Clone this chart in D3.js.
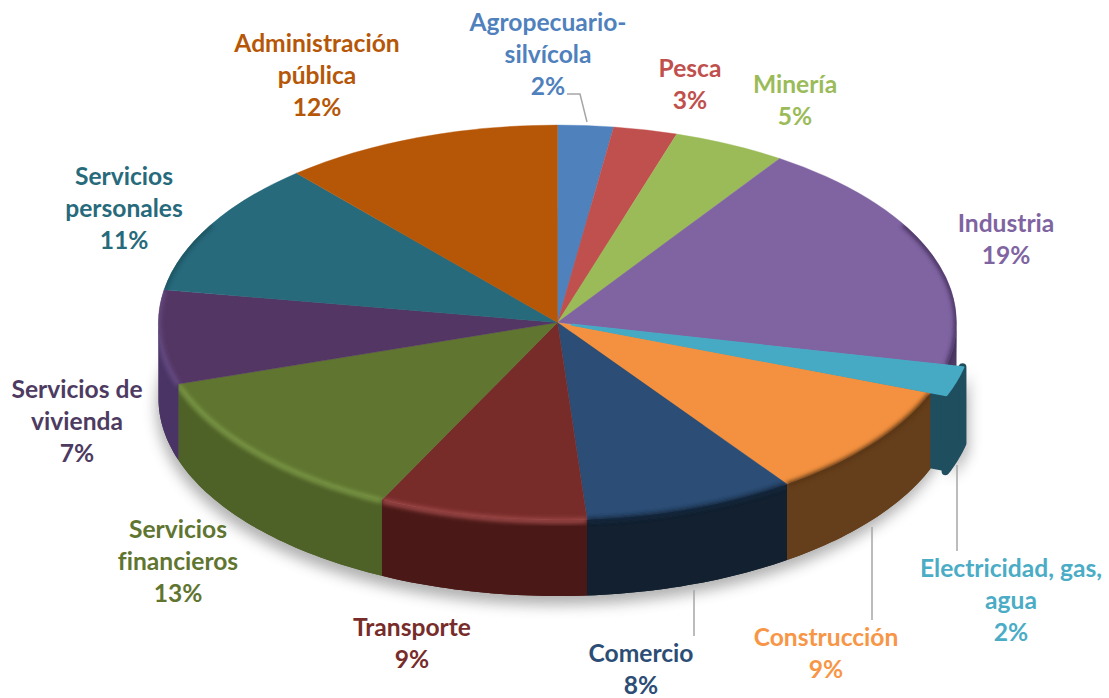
<!DOCTYPE html>
<html>
<head>
<meta charset="utf-8">
<script src="https://cdn.jsdelivr.net/npm/d3@7"></script>
<style>
  html, body { margin: 0; padding: 0; background: #fff; }
  text { font-family: Lato, sans-serif; font-weight: 700; text-anchor: middle; font-variant-ligatures: none; }
</style>
</head>
<body>
<svg id="chart" width="1109" height="698"></svg>
<script>
// slice sizes (%), printed labels kept separately
const sectors = ["Agropecuario-", "Pesca", "Minería", "Industria", "Electricidad, gas,", "Construcción",
    "Comercio", "Transporte", "Servicios", "Servicios de", "Servicios", "Administración"];
const sectorsLine2 = ["silvícola", "", "", "", "agua", "", "", "", "financieros", "vivienda", "personales", "pública"];
const shares = [2.25, 2.58, 4.57, 19.05, 2.35, 9.45, 8.57, 8.43, 12.7, 7.7, 11.0, 11.35];
const shareLabels = [2, 3, 5, 19, 2, 9, 8, 9, 13, 7, 11, 12];

// styles
const topColors = ["#4f81bd", "#c0504d", "#9bbb59", "#8064a2", "#46aac4", "#f39140",
    "#2c4d75", "#772c2a", "#5f7530", "#533663", "#276a7c", "#b65708"];
const wallColors = ["#3a5f8c", "#8e3b39", "#738a42", "#4e3c66", "#1f4e5f", "#653f1c",
    "#12202f", "#4a1917", "#4e6127", "#493465", "#1b4a57", "#7f3d06"];
const rimColors = ["#4f81bd", "#c0504d", "#9bbb59", "#46335f", "#5cc0da", "#5a3616",
    "#14263c", "#a04a48", "#7a9844", "#654a82", "#1e5361", "#b65708"];
const textColors = ["#4f81bd", "#c0504d", "#9bbb59", "#8064a2", "#4bacc6", "#f79646",
    "#2c4d75", "#772c2a", "#5f7530", "#4d3b62", "#276a7c", "#b65708"];

// layout: label centre x and first baseline
const labelX = [548, 690, 795, 1006, 1011, 826, 641, 412, 178, 77, 124, 317];
const labelY = [31, 77, 93, 232, 577, 646, 662, 636, 538, 398, 185, 52];
const leaders = [
    [[567, 94], [580, 94], [587, 122]],
    [[957, 465], [957, 551]],
    [[872, 527], [872, 620]],
    [[694, 590], [694, 636]]
];

const cx = 557.5, cy = 322.5, rx = 399, ry = 197.5, depth = 76;
const explodedIndex = 4, explode = 0.04;
const lineHeight = 32;

const svg = d3.select("#chart");
const defs = svg.append("defs");
defs.append("filter").attr("id", "soft").attr("x", "-20%").attr("y", "-20%").attr("width", "140%").attr("height", "140%")
    .append("feGaussianBlur").attr("stdDeviation", 2);
defs.append("filter").attr("id", "shadow").attr("x", "-20%").attr("y", "-20%").attr("width", "140%").attr("height", "140%")
    .append("feGaussianBlur").attr("stdDeviation", 7);

const pie = d3.pie().sort(null).value(d => d);
const slices = pie(shares);

const arc = d3.arc().innerRadius(0).outerRadius(rx);
const squash = `scale(1,${ry / rx})`;
const line = d3.line();

// point on the top ellipse at angle t (0 = up, clockwise)
function pt(t, dy = 0) {
    return [rx * Math.sin(t), -ry * Math.cos(t) + dy];
}
function arcPoints(a, b, dy = 0) {
    const n = Math.max(2, Math.ceil((b - a) / 0.02));
    return d3.range(n + 1).map(i => pt(a + (b - a) * i / n, dy));
}
function wallPath(d) {
    const a = Math.max(d.startAngle, Math.PI / 2), b = Math.min(d.endAngle, 3 * Math.PI / 2);
    if (a >= b) return null;
    return line(arcPoints(a, b).concat(arcPoints(a, b, depth).reverse())) + "Z";
}
function offset(d, i) {
    if (i !== explodedIndex) return [0, 0];
    const mid = (d.startAngle + d.endAngle) / 2;
    return pt(mid).map(v => v * explode);
}
function place(d, i) {
    const o = offset(d, i);
    return `translate(${cx + o[0]},${cy + o[1]})`;
}

// soft shadow under the pie
const shadow = svg.append("g").attr("filter", "url(#shadow)").attr("opacity", 0.42);
shadow.append("ellipse").attr("cx", cx - 2).attr("cy", cy + depth + 9).attr("rx", rx).attr("ry", ry).attr("fill", "#444");
const ex = slices[explodedIndex];
shadow.append("path").attr("transform", place(ex, explodedIndex) + " translate(6,7)").attr("d", wallPath(ex)).attr("fill", "#444");

const chart = svg.append("g");
const others = slices.map((d, i) => ({ d, i })).filter(s => s.i !== explodedIndex);

// clip per slice keeps the blurred rim inside its own top + wall
others.forEach(({ d, i }) => {
    const clip = defs.append("clipPath").attr("id", "clip" + i);
    clip.append("path").attr("transform", `translate(${cx},${cy}) ${squash}`).attr("d", arc(d));
    const w = wallPath(d);
    if (w) clip.append("path").attr("transform", `translate(${cx},${cy})`).attr("d", w);
});

chart.append("g").selectAll("path")
    .data(others.filter(s => wallPath(s.d)))
    .join("path")
    .attr("transform", `translate(${cx},${cy})`)
    .attr("d", s => wallPath(s.d))
    .attr("fill", s => wallColors[s.i]);

// exploded slice walls sit over the Industria wall, under the neighbour's top
const e0 = pt(ex.endAngle);
chart.append("path")
    .attr("transform", place(ex, explodedIndex))
    .attr("d", line([[0, 0], e0, [e0[0], e0[1] + depth], [0, depth]]) + "Z")
    .attr("fill", wallColors[explodedIndex]);
chart.append("path")
    .attr("transform", place(ex, explodedIndex))
    .attr("d", wallPath(ex))
    .attr("fill", wallColors[explodedIndex])
    .attr("stroke", wallColors[explodedIndex])
    .attr("stroke-width", 8)
    .attr("stroke-linejoin", "round");

// walls in front of the cut face
chart.append("g").selectAll("path")
    .data(others.filter(s => s.i > explodedIndex && wallPath(s.d)))
    .join("path")
    .attr("transform", `translate(${cx},${cy})`)
    .attr("d", s => wallPath(s.d))
    .attr("fill", s => wallColors[s.i]);

chart.append("g").selectAll("path")
    .data(others)
    .join("path")
    .attr("transform", `translate(${cx},${cy}) ${squash}`)
    .attr("d", s => arc(s.d))
    .attr("fill", s => topColors[s.i])
    .attr("stroke", s => topColors[s.i])
    .attr("stroke-width", 0.5);

// bevel along the outer edge, only on the side and front
const rimFrom = Math.PI / 3, rimTo = 5 * Math.PI / 3;
others.forEach(({ d, i }) => {
    const a = Math.max(d.startAngle, rimFrom), b = Math.min(d.endAngle, rimTo);
    if (a >= b) return;
    chart.append("g").attr("clip-path", `url(#clip${i})`)
        .append("path")
        .attr("transform", `translate(${cx},${cy})`)
        .attr("d", line(arcPoints(a, b, 1)))
        .attr("fill", "none")
        .attr("stroke", rimColors[i])
        .attr("stroke-width", 5)
        .attr("filter", "url(#soft)");
});

// exploded slice top goes last
chart.append("path")
    .attr("transform", place(ex, explodedIndex) + " " + squash)
    .attr("d", arc(ex))
    .attr("fill", topColors[explodedIndex])
    .attr("stroke", topColors[explodedIndex])
    .attr("stroke-width", 4)
    .attr("stroke-linejoin", "round");

// leader lines
svg.append("g").selectAll("path")
    .data(leaders)
    .join("path")
    .attr("d", d => line(d))
    .attr("fill", "none")
    .attr("stroke", "#a6a6a6")
    .attr("stroke-width", 1.5);

// labels
const label = svg.append("g").selectAll("text")
    .data(slices)
    .join("text")
    .attr("y", (d, i) => labelY[i])
    .attr("fill", (d, i) => textColors[i])
    .style("font-size", "24.6px");

label.each(function (d, i) {
    const rows = [sectors[i], sectorsLine2[i], shareLabels[i] + "%"].filter(r => r);
    d3.select(this).selectAll("tspan")
        .data(rows)
        .join("tspan")
        .attr("x", labelX[i])
        .attr("dy", (r, j) => j ? lineHeight : 0)
        .text(r => r);
});
</script>
</body>
</html>
